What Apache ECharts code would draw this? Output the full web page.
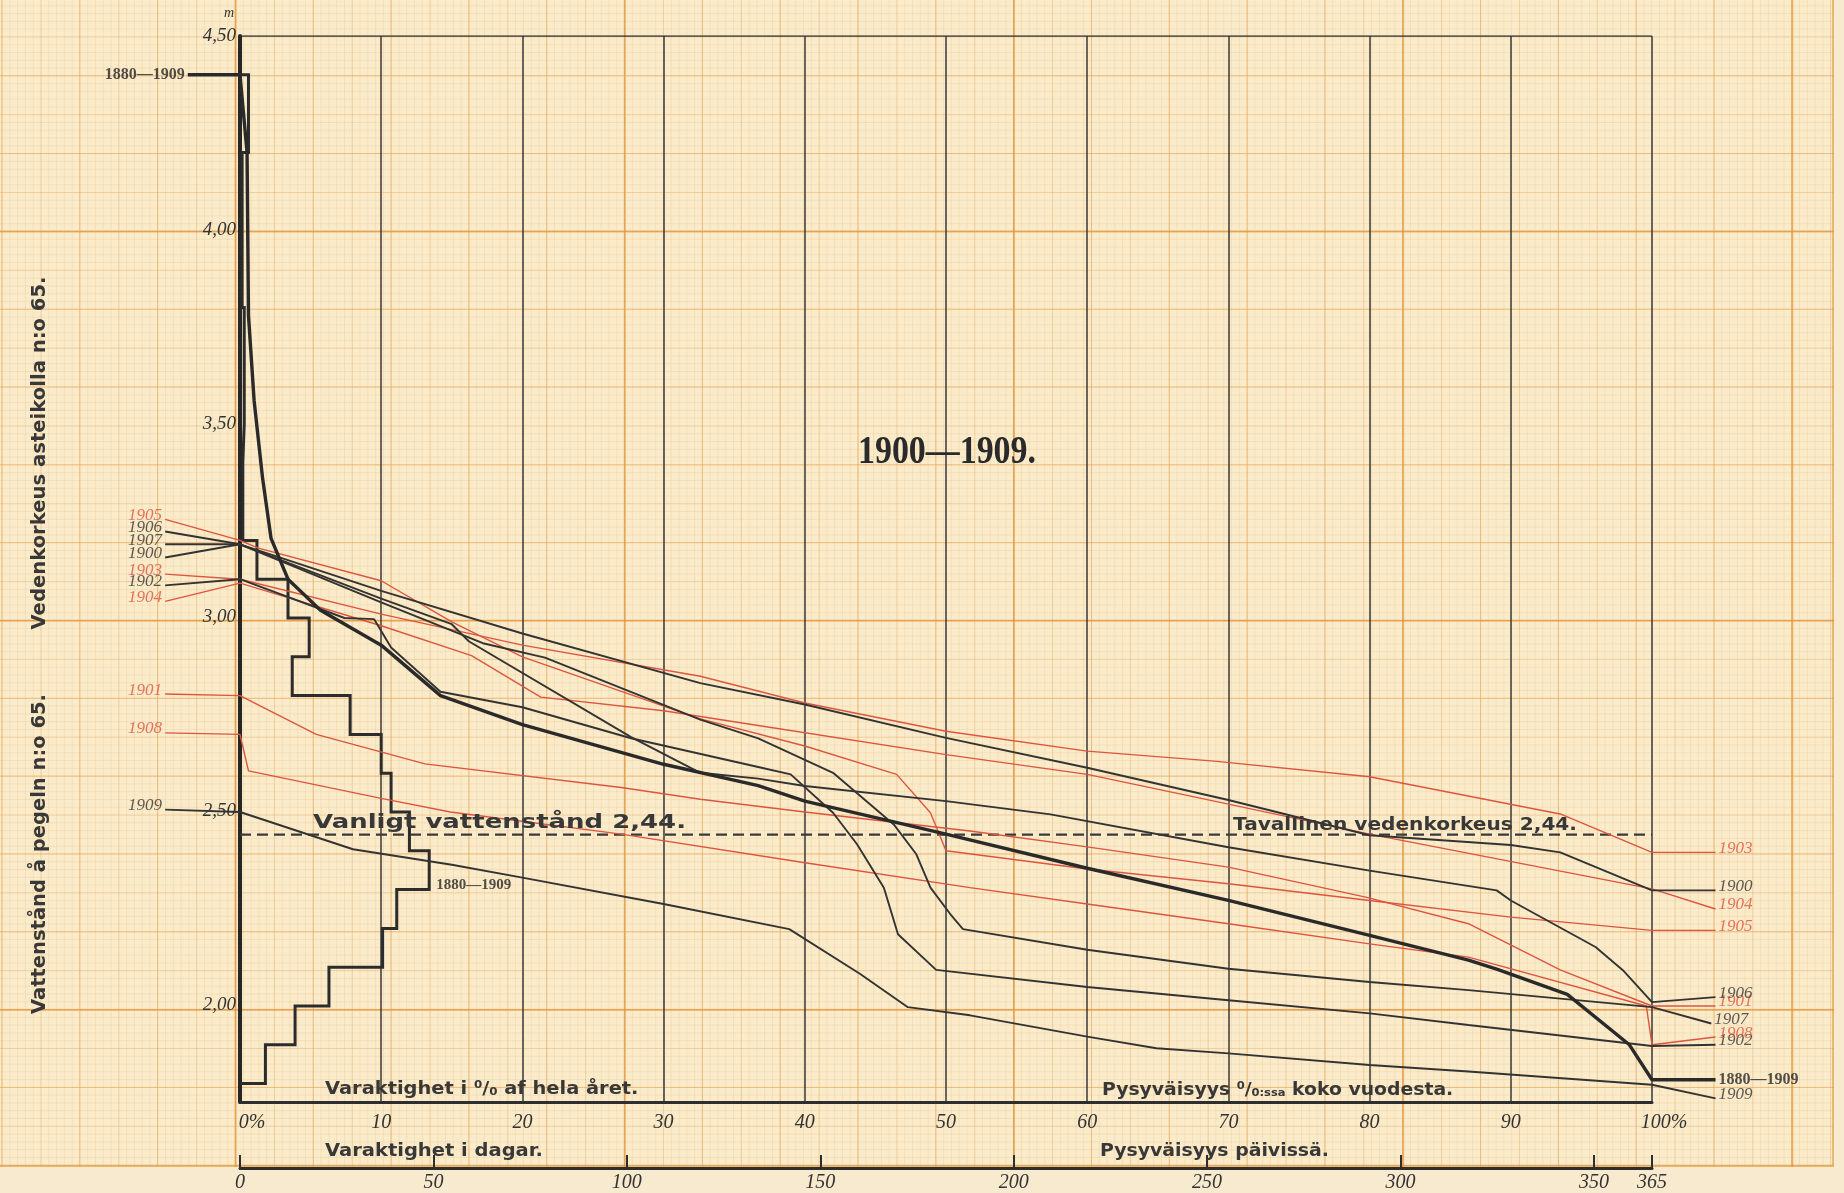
<!DOCTYPE html>
<html>
<head>
<meta charset="utf-8">
<script src="https://cdn.jsdelivr.net/npm/echarts@6/dist/echarts.min.js"></script>
<style>
  html, body { margin: 0; padding: 0; width: 1844px; height: 1193px; overflow: hidden; background: #f7eacf; }
  /* millimetre paper: 1 mm, 5 mm, 10 mm and 50 mm rulings */
  #paper {
    position: absolute; left: 0; top: 0; width: 1832px; height: 1165px;
    background-color: #faebca;
    border-right: 2px solid rgba(224,150,60,0.6);
    border-bottom: 2px solid rgba(224,150,60,0.6);
    background-image:
      linear-gradient(to right, rgba(226,148,58,0.62) 0, rgba(226,148,58,0.62) 2px, transparent 2px),
      linear-gradient(to bottom, rgba(226,148,58,0.62) 0, rgba(226,148,58,0.62) 2px, transparent 2px),
      linear-gradient(to right, rgba(228,160,76,0.40) 0, rgba(228,160,76,0.40) 1.2px, transparent 1.2px),
      linear-gradient(to bottom, rgba(228,160,76,0.40) 0, rgba(228,160,76,0.40) 1.2px, transparent 1.2px),
      linear-gradient(to right, rgba(228,168,96,0.30) 0, rgba(228,168,96,0.30) 1px, transparent 1px),
      linear-gradient(to bottom, rgba(228,168,96,0.30) 0, rgba(228,168,96,0.30) 1px, transparent 1px),
      linear-gradient(to right, rgba(230,178,112,0.22) 0, rgba(230,178,112,0.22) 1px, transparent 1px),
      linear-gradient(to bottom, rgba(230,178,112,0.22) 0, rgba(230,178,112,0.22) 1px, transparent 1px);
    background-size:
      389.2px 100%, 100% 389.2px,
      77.84px 100%, 100% 77.84px,
      38.92px 100%, 100% 38.92px,
      7.784px 100%, 100% 7.784px;
    background-position:
      234.6px 0, 0 230.5px,
      1.4px 0, 0 75.2px,
      1.6px 0, 0 36.4px,
      1.6px 0, 0 5.3px;
  }
  #chart { position: absolute; left: 0; top: 0; width: 1844px; height: 1193px; }
</style>
</head>
<body>
<div id="paper"></div>
<div id="chart"></div>
<script>
// ---- axes --------------------------------------------------------------
const dayTicks = [0, 50, 100, 150, 200, 250, 300, 350, 365];
const levelTicks = [2.0, 2.5, 3.0, 3.5, 4.0, 4.5];
const usualLevel = 2.44;

// ---- frequency of each 10 cm band, 1880–1909 (per cent of the year) ----
const bandEdges = [4.4, 4.3, 4.2, 4.1, 4.0, 3.9, 3.8, 3.7, 3.6, 3.5, 3.4, 3.3, 3.2, 3.1, 3.0,
                   2.9, 2.8, 2.7, 2.6, 2.5, 2.4, 2.3, 2.2, 2.1, 2.0, 1.9, 1.8];
const bandShare = [0.6, 0.6, 0.15, 0.15, 0.15, 0.15, 0.3, 0.3, 0.3, 0.2, 0.2, 0.2, 1.2, 3.4, 4.9,
                   3.7, 7.8, 10.0, 10.7, 12.0, 13.4, 11.1, 10.1, 6.3, 3.9, 1.8];

// ---- duration curves: [per cent of year, water level m] -----------------
// first point = end of the left label leader, last point = end of the right one
const mean1880to1909 = [[-3.7,4.40],[0,4.40],[0.5,4.20],[0.6,3.78],[1.0,3.56],[1.6,3.36],[2.2,3.205],
  [3.4,3.10],[5.7,3.02],[10,2.93],[14.2,2.80],[20,2.725],[30,2.623],[36.7,2.568],[40,2.528],[46,2.477],
  [50,2.443],[60,2.355],[70,2.272],[80,2.182],[87,2.118],[89,2.095],[94,2.03],[98.4,1.90],[100,1.81],[104.5,1.81]];

const y1900 = [[-5.3,3.156],[0,3.19],[10,3.07],[20,2.96],[32.6,2.832],[40,2.777],[50,2.691],[60,2.614],
  [70,2.531],[80,2.44],[90,2.415],[93.5,2.396],[100,2.298],[104.5,2.298]];
const y1901 = [[-5.3,2.804],[0,2.80],[5.4,2.70],[13.1,2.624],[27,2.563],[32.6,2.533],[40,2.50],[51.7,2.451],
  [60,2.41],[70,2.358],[79.8,2.28],[87,2.212],[93.5,2.093],[100,2.00],[104.5,2.00]];
const y1902 = [[-5.3,3.084],[0,3.10],[7.4,3.00],[9.5,2.997],[10.7,2.924],[14.2,2.81],[20,2.77],[27.7,2.69],
  [36.7,2.616],[39,2.597],[42,2.498],[43.7,2.417],[45.6,2.305],[46.6,2.185],[49.3,2.093],[60,2.049],
  [70,2.015],[80,1.981],[87,1.951],[100,1.897],[104.5,1.90]];
const y1903 = [[-5.3,3.113],[0,3.10],[10,3.01],[20,2.93],[32.6,2.85],[40,2.781],[50,2.708],[60,2.657],
  [69,2.631],[80,2.591],[93.5,2.495],[100,2.396],[104.5,2.396]];
const y1904 = [[-5.3,3.043],[0,3.09],[10,2.98],[16.4,2.903],[21.3,2.796],[30,2.761],[36.7,2.723],[50,2.648],
  [60,2.597],[69,2.528],[80,2.443],[100,2.302],[104.5,2.25]];
const y1905 = [[-5.3,3.254],[0,3.20],[1.3,3.18],[10,3.096],[15,2.99],[20,2.90],[32.6,2.74],[40,2.67],
  [46.5,2.597],[48.9,2.498],[50,2.40],[60,2.353],[70,2.315],[80,2.272],[90,2.229],[100,2.195],[104.5,2.195]];
const y1906 = [[-5.3,3.223],[0,3.19],[10,3.05],[15,2.984],[16.2,2.94],[27.7,2.693],[32.6,2.601],[36.7,2.586],
  [40,2.567],[50,2.528],[57.4,2.494],[70,2.409],[80,2.349],[89,2.298],[90,2.272],[96,2.152],[98,2.09],
  [100,2.01],[104.5,2.023]];
const y1907 = [[-5.3,3.19],[0,3.19],[10,3.04],[17.2,2.935],[21.6,2.898],[32.6,2.738],[36.7,2.69],[42,2.601],
  [46.3,2.468],[47.9,2.391],[48.9,2.305],[50.3,2.237],[51.2,2.198],[60,2.145],[70,2.096],[80,2.062],
  [87,2.041],[100,1.997],[104.2,1.955]];
const y1908 = [[-5.3,2.704],[0,2.70],[0.6,2.606],[10,2.535],[14.9,2.50],[27,2.443],[39.9,2.37],[51.7,2.305],
  [60,2.263],[70,2.212],[80,2.16],[87,2.126],[99.6,2.00],[100,1.90],[104.5,1.92]];
const y1909 = [[-5.3,2.506],[0,2.50],[8,2.404],[15,2.364],[20,2.331],[30,2.263],[38.9,2.198],[43.9,2.083],
  [47.3,1.997],[51.7,1.976],[60,1.921],[64.9,1.891],[70,1.878],[80,1.848],[87,1.831],[100,1.797],[104.5,1.762]];

const INK = '#333333';
const RED = '#dc5540';

const years = [
  ['1900', y1900, INK], ['1901', y1901, RED], ['1902', y1902, INK], ['1903', y1903, RED],
  ['1904', y1904, RED], ['1905', y1905, RED], ['1906', y1906, INK], ['1907', y1907, INK],
  ['1908', y1908, RED], ['1909', y1909, INK]
];

const fmtLevel = v => v.toFixed(2).replace('.', ',');

// step outline of the band frequencies
const histogram = [[0, bandEdges[0]]];
bandShare.forEach((w, i) => { histogram.push([w, bandEdges[i]], [w, bandEdges[i + 1]]); });
histogram.push([0, bandEdges[bandEdges.length - 1]]);

// ---- plot frame geometry -----------------------------------------------
const W = 1844, H = 1193;
const PLOT_L = 240, PLOT_R = 1652, PLOT_T = 36, PLOT_B = 1103;
const LEVEL_MIN = 1.75, LEVEL_MAX = 4.5;
// a wider, invisible twin of the percent axis so that label leaders can run past 0 % and 100 %
const EXT_LO = -8, EXT_HI = 108;
const pxPerPct = (PLOT_R - PLOT_L) / 100;

const SERIF_IT = { fontFamily: '"Liberation Serif", serif', fontStyle: 'italic' };
const onWide = { xAxisIndex: 2, yAxisIndex: 1 };

const series = [];
// frame line along the top
series.push({ type: 'line', data: [[0, 4.5], [100, 4.5]], symbol: 'none', silent: true,
  lineStyle: { color: INK, width: 1.6 }, z: 2 });
// ordinary water level
series.push({ type: 'line', data: [[0, usualLevel], [100, usualLevel]], symbol: 'none', silent: true,
  lineStyle: { color: '#3a3a3a', width: 2.2, type: [11, 6] }, z: 3 });
// band frequency outline
series.push(Object.assign({ type: 'line', data: histogram, symbol: 'none', silent: true, clip: false,
  lineStyle: { color: '#2c2c2c', width: 3, join: 'miter' }, z: 4 }, onWide));
years.forEach(([name, data, color]) => {
  series.push(Object.assign({ type: 'line', name, data, symbol: 'none', silent: true, clip: false,
    lineStyle: { color, width: color === RED ? 1.4 : 1.9 }, z: color === RED ? 5 : 6 }, onWide));
});
series.push(Object.assign({ type: 'line', name: '1880—1909', data: mean1880to1909, symbol: 'none', silent: true, clip: false,
  lineStyle: { color: '#2a2a2a', width: 3.4 }, z: 7 }, onWide));

// year labels at both ends of every curve
const labelPoint = (pt, text, color, side, bold) => ({
  value: pt,
  label: {
    show: true, formatter: text, position: side, distance: 3, offset: bold ? [0, 0] : [0, -4], color,
    fontFamily: '"Liberation Serif", serif',
    fontStyle: bold ? 'normal' : 'italic', fontWeight: bold ? 'bold' : 'normal',
    fontSize: bold ? 16 : 17
  }
});
const endLabels = [];
years.forEach(([name, data, color]) => {
  endLabels.push(labelPoint(data[0], name, color, 'left', false));
  endLabels.push(labelPoint(data[data.length - 1], name, color, 'right', false));
});
endLabels.push(labelPoint(mean1880to1909[0], '1880—1909', '#262626', 'left', true));
endLabels.push(labelPoint(mean1880to1909[mean1880to1909.length - 1], '1880—1909', '#262626', 'right', true));
// the band outline carries its own period label beside its widest step
const widest = bandShare.indexOf(Math.max(...bandShare));
const histLabel = labelPoint([bandShare[widest], bandEdges[widest + 1]], '1880—1909', '#262626', 'right', true);
histLabel.label.offset = [4, -4];
histLabel.label.fontSize = 15;
endLabels.push(histLabel);
series.push(Object.assign({ type: 'scatter', data: endLabels, symbolSize: 0.1, clip: false, silent: true,
  itemStyle: { color: 'rgba(0,0,0,0)' }, z: 8 }, onWide));

// ---- printed captions --------------------------------------------------
const meas = document.createElement('canvas').getContext('2d');
const fit = (text, font, width) => { meas.font = font; return width / meas.measureText(text).width; };
const SANS = size => 'bold ' + size + 'px "DejaVu Sans", "Liberation Sans", sans-serif';
const CAPTION_INK = '#383838';

function caption(text, x, y, size, width, rotation) {
  const font = SANS(size);
  return {
    type: 'text', x, y, rotation: rotation || 0, scaleX: fit(text, font, width), silent: true, z: 20,
    style: { text, font, fill: CAPTION_INK, align: rotation ? 'center' : 'left', verticalAlign: 'middle' }
  };
}
function richCaption(parts, plain, x, y, size, width) {
  const font = SANS(size);
  const small = SANS(Math.round(size * 0.62));
  return {
    type: 'text', x, y, scaleX: fit(plain, font, width), silent: true, z: 20,
    style: {
      text: parts, align: 'left', verticalAlign: 'middle', fill: CAPTION_INK, font,
      rich: {
        t: { font, fill: CAPTION_INK },
        s: { font: small, fill: CAPTION_INK, verticalAlign: 'top', padding: [0, 0, 6, 0] },
        b: { font: small, fill: CAPTION_INK, verticalAlign: 'bottom', padding: [4, 0, 0, 0] }
      }
    }
  };
}

const title = '1900—1909.';
const titleFont = 'bold 41px "Liberation Serif", serif';
const level = fmtLevel(usualLevel);

const graphics = [
  { type: 'text', x: 947, y: 452, scaleX: fit(title, titleFont, 178), silent: true, z: 20,
    style: { text: title, font: titleFont, fill: '#2a2a2a', align: 'center', verticalAlign: 'middle' } },
  { type: 'text', x: 229, y: 13, silent: true, z: 20,
    style: { text: 'm', font: 'italic 14px "Liberation Serif", serif', fill: '#333', align: 'center', verticalAlign: 'middle' } },
  caption('Vedenkorkeus asteikolla n:o 65.', 40, 453, 20, 353, Math.PI / 2),
  caption('Vattenstånd å pegeln n:o 65.', 40, 854, 20, 320, Math.PI / 2),
  caption('Vanligt vattenstånd ' + level + '.', 313, 823, 19, 373),
  caption('Tavallinen vedenkorkeus ' + level + '.', 1233, 825, 18, 344),
  richCaption('{t|Varaktighet i }{s|0}{t|/}{b|0}{t| af hela året.}', 'Varaktighet i 0/0 af hela året.', 325, 1089, 18, 324),
  richCaption('{t|Pysyväisyys }{s|0}{t|/}{b|0}{b|:ssa}{t| koko vuodesta.}', 'Pysyväisyys 0/0:ssa koko vuodesta.', 1102, 1090, 18, 378),
  caption('Varaktighet i dagar.', 325, 1151, 18, 218),
  caption('Pysyväisyys päivissä.', 1100, 1151, 18, 229)
];

const plotGrid = { left: PLOT_L, right: W - PLOT_R, top: PLOT_T, bottom: H - PLOT_B };
const wideGrid = {
  left: PLOT_L + EXT_LO * pxPerPct, right: W - (PLOT_R + (EXT_HI - 100) * pxPerPct),
  top: PLOT_T, bottom: H - PLOT_B
};

const chart = echarts.init(document.getElementById('chart'), null, { renderer: 'canvas' });
chart.setOption({
  animation: false,
  backgroundColor: 'transparent',
  grid: [plotGrid, wideGrid],
  xAxis: [
    {
      gridIndex: 0, type: 'value', min: 0, max: 100, interval: 10, position: 'bottom',
      axisLine: { show: true, onZero: false, lineStyle: { color: '#2e2e2e', width: 3 } },
      axisTick: { show: false },
      splitLine: { show: true, lineStyle: { color: '#383838', width: 1.5 } },
      axisLabel: Object.assign({
        margin: 11, fontSize: 20, color: '#333',
        formatter: v => v === 0 ? '{p|0%}' : (v === 100 ? '{p|100%}' : String(v)),
        rich: { p: Object.assign({ fontSize: 20, color: '#333', padding: [0, 0, 0, 24] }, SERIF_IT) }
      }, SERIF_IT)
    },
    {
      gridIndex: 0, type: 'value', min: 0, max: 365, position: 'bottom', offset: 66,
      axisLine: { show: true, onZero: false, lineStyle: { color: '#2e2e2e', width: 3 } },
      axisTick: { show: true, inside: true, length: 13, customValues: dayTicks, lineStyle: { color: '#2e2e2e', width: 2 } },
      splitLine: { show: false },
      axisLabel: Object.assign({ margin: 5, fontSize: 20, color: '#333', customValues: dayTicks }, SERIF_IT)
    },
    { gridIndex: 1, type: 'value', min: EXT_LO, max: EXT_HI, show: false }
  ],
  yAxis: [
    {
      gridIndex: 0, type: 'value', min: LEVEL_MIN, max: LEVEL_MAX,
      axisLine: { show: true, onZero: false, lineStyle: { color: '#262626', width: 4 } },
      axisTick: { show: false },
      splitLine: { show: false },
      axisLabel: Object.assign({
        customValues: levelTicks, margin: 4, fontSize: 19, color: '#333',
        verticalAlign: 'middle', padding: [0, 0, 6, 0], formatter: v => fmtLevel(v)
      }, SERIF_IT)
    },
    { gridIndex: 1, type: 'value', min: LEVEL_MIN, max: LEVEL_MAX, show: false }
  ],
  graphic: graphics,
  series
});
</script>
</body>
</html>
